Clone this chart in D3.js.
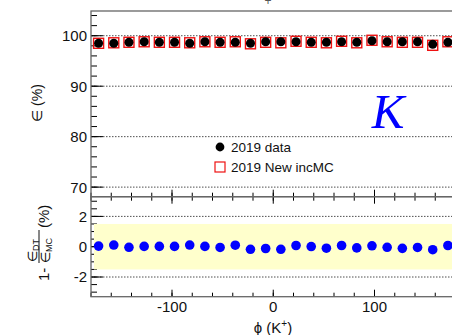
<!DOCTYPE html>
<html>
<head>
<meta charset="utf-8">
<script src="https://cdn.jsdelivr.net/npm/d3@7"></script>
<style>
  body { margin: 0; background: #fff; }
  svg { display: block; font-family: "Liberation Sans", Arial, sans-serif; }
</style>
</head>
<body>
<svg id="chart" width="452" height="335"></svg>
<script>
// данные: центры бинов по phi (K+) и эффективности
const phi = [-172.5, -157.5, -142.5, -127.5, -112.5, -97.5, -82.5, -67.5, -52.5, -37.5, -22.5, -7.5,
             7.5, 22.5, 37.5, 52.5, 67.5, 82.5, 97.5, 112.5, 127.5, 142.5, 157.5, 172.5];
const effData = [98.5, 98.5, 98.7, 98.8, 98.7, 98.7, 98.5, 98.8, 98.7, 98.7, 98.5, 98.8,
                 98.8, 98.8, 98.7, 98.7, 98.8, 98.7, 99.0, 98.8, 98.8, 98.8, 98.3, 98.7];
const effMC = [98.5, 98.6, 98.7, 98.8, 98.7, 98.7, 98.6, 98.8, 98.7, 98.8, 98.4, 98.7,
               98.6, 98.9, 98.7, 98.6, 98.9, 98.6, 99.1, 98.8, 98.7, 98.7, 98.1, 98.8];
const ratio = [0.04, 0.11, -0.04, 0.02, 0.02, 0.02, 0.11, 0.02, -0.05, 0.1, -0.17, -0.12,
               -0.17, 0.08, 0.01, -0.1, 0.08, -0.08, 0.06, -0.04, -0.11, -0.05, -0.2, 0.08];
const topTicks = [70, 80, 90, 100];
const botTicks = [-2, 0, 2];
const xTicks = [-100, 0, 100];
const legendLabels = ["2019 data", "2019 New incMC"];

const svg = d3.select("#chart");
const left = 91, right = 455.5;
const topY0 = 11, topY1 = 196.7, botY1 = 296.7;

const x = d3.scaleLinear().domain([-180, 180]).range([left, right]);
const yTop = d3.scaleLinear().domain([68.1, 104.9]).range([topY1, topY0]);
const yBot = d3.scaleLinear().domain([-3.3, 3.3]).range([botY1, topY1]);

// фрагмент заголовка сверху (обрезан)
svg.append("text").attr("x", 268).attr("y", 4.5).attr("text-anchor", "middle")
  .attr("font-size", 12).attr("fill", "#555").text("+");

// сетка
function grid(scale, vals) {
  svg.append("g").selectAll("line").data(vals).enter().append("line")
    .attr("x1", left).attr("x2", right)
    .attr("y1", d => scale(d)).attr("y2", d => scale(d))
    .attr("stroke", "#222").attr("stroke-width", 0.8)
    .attr("stroke-dasharray", "1.5,1.5");
}
grid(yTop, topTicks);
grid(yBot, [-2, 2]);

// оси Y (тики внутрь)
function yAxis(scale, major, minor, labels, fmt) {
  const g = svg.append("g").attr("transform", `translate(${left},0)`);
  g.selectAll(".mn").data(minor).enter().append("line")
    .attr("x1", 0).attr("x2", 6).attr("y1", d => scale(d)).attr("y2", d => scale(d))
    .attr("stroke", "#000");
  g.selectAll(".mj").data(major).enter().append("line")
    .attr("x1", 0).attr("x2", 12).attr("y1", d => scale(d)).attr("y2", d => scale(d))
    .attr("stroke", "#000");
  g.selectAll("text").data(labels).enter().append("text")
    .attr("x", -4).attr("y", d => scale(d)).attr("dy", "0.36em")
    .attr("text-anchor", "end").attr("font-size", 15).attr("fill", "#111")
    .text(fmt);
}
yAxis(yTop, topTicks, d3.range(70, 105, 2), topTicks, d => d);
yAxis(yBot, botTicks, d3.range(-3, 3.01, 0.5), botTicks, d => d);

// желтая полоса ±1.5% поверх внутренних тиков
svg.append("rect")
  .attr("x", left + 3).attr("width", right - left - 3)
  .attr("y", yBot(1.5)).attr("height", yBot(-1.5) - yBot(1.5))
  .attr("fill", "#ffffcc");

// оси X
function xTicksAt(y0, dir) {
  const g = svg.append("g");
  g.selectAll(".mn").data(d3.range(-180, 181, 20)).enter().append("line")
    .attr("x1", d => x(d)).attr("x2", d => x(d))
    .attr("y1", y0).attr("y2", y0 + dir * 4).attr("stroke", "#000");
  g.selectAll(".mj").data(xTicks).enter().append("line")
    .attr("x1", d => x(d)).attr("x2", d => x(d))
    .attr("y1", y0).attr("y2", y0 + dir * 7).attr("stroke", "#000");
}
xTicksAt(topY1, -1);
xTicksAt(topY1, 1);
xTicksAt(botY1, -1);

svg.append("g").selectAll("text").data(xTicks).enter().append("text")
  .attr("x", d => x(d)).attr("y", 312)
  .attr("text-anchor", "middle").attr("font-size", 15).attr("fill", "#111")
  .text(d => d);

// рамки
svg.append("rect").attr("x", left).attr("y", topY0)
  .attr("width", right - left).attr("height", topY1 - topY0)
  .attr("fill", "none").attr("stroke", "#666").attr("stroke-width", 1.3);
svg.append("rect").attr("x", left).attr("y", topY1)
  .attr("width", right - left).attr("height", botY1 - topY1)
  .attr("fill", "none").attr("stroke", "#666").attr("stroke-width", 1.3);

// MC - красные квадраты
svg.append("g").selectAll("rect").data(phi).enter().append("rect")
  .attr("x", (d) => x(d) - 5).attr("y", (d, i) => yTop(effMC[i]) - 5)
  .attr("width", 10).attr("height", 10)
  .attr("fill", "none").attr("stroke", "#ee1111").attr("stroke-width", 1.4);

// данные - черные кружки
svg.append("g").selectAll("circle").data(phi).enter().append("circle")
  .attr("cx", d => x(d)).attr("cy", (d, i) => yTop(effData[i]))
  .attr("r", 4.5).attr("fill", "#000");

// отношение - синие кружки
svg.append("g").selectAll("circle").data(phi).enter().append("circle")
  .attr("cx", d => x(d)).attr("cy", (d, i) => yBot(ratio[i]))
  .attr("r", 4.8).attr("fill", "#0000ff");

// легенда
svg.append("circle").attr("cx", 220).attr("cy", 147).attr("r", 4.4).attr("fill", "#000");
svg.append("rect").attr("x", 215).attr("y", 162).attr("width", 10).attr("height", 10)
  .attr("fill", "none").attr("stroke", "#ee1111").attr("stroke-width", 1.2);
svg.append("g").selectAll("text").data(legendLabels).enter().append("text")
  .attr("x", 231).attr("y", (d, i) => 147 + i * 20).attr("dy", "0.36em")
  .attr("font-size", 13.5).attr("fill", "#111").text(d => d);

// буква K
svg.append("text").attr("x", 388).attr("y", 128).attr("text-anchor", "middle")
  .attr("font-family", "'Liberation Serif', 'Times New Roman', serif")
  .attr("font-style", "italic").attr("font-size", 49).attr("fill", "#0000ff").text("K");

// подписи осей
svg.append("text").attr("transform", "translate(42,103) rotate(-90)")
  .attr("text-anchor", "middle").attr("font-size", 14).attr("fill", "#111")
  .text("\u2208 (%)");

const yt = svg.append("g").attr("transform", "translate(49,281) rotate(-90)")
  .attr("fill", "#111");
yt.append("text").attr("x", 0).attr("y", 0).attr("font-size", 15).text("1-");
yt.append("text").attr("x", 19).attr("y", -12).attr("font-size", 13)
  .html("\u2208<tspan font-size='9' dy='2'>DT</tspan>");
yt.append("line").attr("x1", 18).attr("x2", 51).attr("y1", -10).attr("y2", -10)
  .attr("stroke", "#111").attr("stroke-width", 1);
yt.append("text").attr("x", 18).attr("y", 1).attr("font-size", 13)
  .html("\u2208<tspan font-size='9' dy='2'>MC</tspan>");
yt.append("text").attr("x", 53).attr("y", 0).attr("font-size", 15).text("(%)");

svg.append("text").attr("x", 273).attr("y", 333).attr("text-anchor", "middle")
  .attr("font-size", 15).attr("fill", "#111")
  .html("\u03d5 (K<tspan font-size='10' dy='-6'>+</tspan><tspan dy='6'>)</tspan>");
</script>
</body>
</html>
